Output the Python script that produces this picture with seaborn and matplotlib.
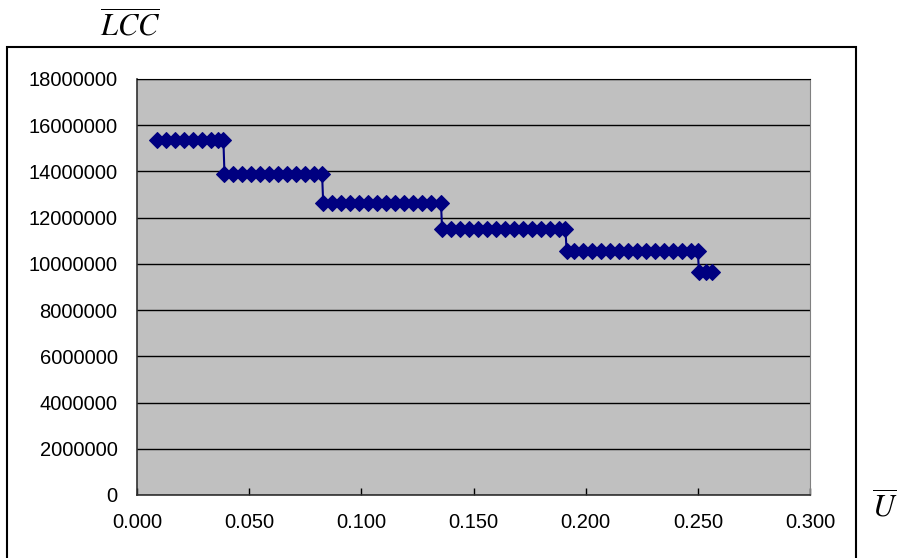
import matplotlib
matplotlib.use('Agg')
import matplotlib.pyplot as plt
import seaborn as sns
import pandas as pd
from matplotlib.patches import Rectangle
from matplotlib.ticker import FuncFormatter, MultipleLocator

# Datos (U medio vs LCC medio)
u = [0.009, 0.013, 0.017, 0.021, 0.025, 0.029, 0.033, 0.036, 0.0385,
     0.039, 0.043, 0.047, 0.051, 0.055, 0.059, 0.063, 0.067, 0.071, 0.075, 0.079, 0.0825,
     0.083, 0.087, 0.091, 0.095, 0.099, 0.103, 0.107, 0.111, 0.115, 0.119, 0.123, 0.127, 0.131, 0.1355,
     0.136, 0.140, 0.144, 0.148, 0.152, 0.156, 0.160, 0.164, 0.168, 0.172, 0.176, 0.180, 0.184, 0.188, 0.191,
     0.1915, 0.195, 0.199, 0.203, 0.207, 0.211, 0.215, 0.219, 0.223, 0.227, 0.231, 0.235, 0.239, 0.243, 0.247, 0.250,
     0.2505, 0.2535, 0.2565]
lcc = [15380000, 15380000, 15380000, 15380000, 15380000, 15380000, 15380000, 15380000, 15380000,
       13880000, 13880000, 13880000, 13880000, 13880000, 13880000, 13880000, 13880000, 13880000, 13880000, 13880000, 13880000,
       12650000, 12650000, 12650000, 12650000, 12650000, 12650000, 12650000, 12650000, 12650000, 12650000, 12650000, 12650000, 12650000, 12650000,
       11500000, 11500000, 11500000, 11500000, 11500000, 11500000, 11500000, 11500000, 11500000, 11500000, 11500000, 11500000, 11500000, 11500000, 11500000,
       10550000, 10550000, 10550000, 10550000, 10550000, 10550000, 10550000, 10550000, 10550000, 10550000, 10550000, 10550000, 10550000, 10550000, 10550000, 10550000,
       9650000, 9650000, 9650000]

df = pd.DataFrame({'U': u, 'LCC': lcc})

plt.rcParams['mathtext.fontset'] = 'stix'
plt.rcParams['font.family'] = ['Liberation Sans', 'DejaVu Sans']

fig = plt.figure(figsize=(9, 5.58), dpi=100)
ax = fig.add_axes([137/900, 63/558, 673/900, 416/558])
ax.set_facecolor('#c0c0c0')

sns.lineplot(data=df, x='U', y='LCC', ax=ax, color='#000080', linewidth=1.5,
             marker='D', markersize=8, markeredgecolor='#000080', estimator=None, sort=False)

ax.set_xlim(0, 0.3)
ax.set_ylim(0, 18000000)
ax.xaxis.set_major_locator(MultipleLocator(0.05))
ax.yaxis.set_major_locator(MultipleLocator(2000000))
ax.xaxis.set_major_formatter(FuncFormatter(lambda v, p: f'{v:.3f}'))
ax.yaxis.set_major_formatter(FuncFormatter(lambda v, p: f'{v:.0f}'))
ax.grid(axis='y', color='black', linewidth=1)
ax.grid(axis='x', visible=False)
ax.set_axisbelow(True)
ax.tick_params(axis='x', direction='in', length=5, width=1, pad=13, labelsize=14.5, colors='black')
ax.tick_params(axis='y', length=0, pad=14, labelsize=14.5)
ax.set_xlabel('')
ax.set_ylabel('')

for side in ['left', 'bottom']:
    ax.spines[side].set_color('#303030')
    ax.spines[side].set_linewidth(1.2)
ax.spines['right'].set_color('#808080')
ax.spines['top'].set_color('black')

# Marco exterior del gráfico
fig.add_artist(Rectangle((7/900, -0.05), 849/900, 1.05 - 47/558, transform=fig.transFigure,
                         fill=False, edgecolor='black', linewidth=1.5, clip_on=False))

fig.text(130/900, 1 - 27/558, r'$\overline{LCC}$', ha='center', va='center', fontsize=22)
fig.text(885/900, 1 - 508/558, r'$\overline{U}$', ha='center', va='center', fontsize=22)

plt.savefig('out.png', dpi=100)
plt.close()
